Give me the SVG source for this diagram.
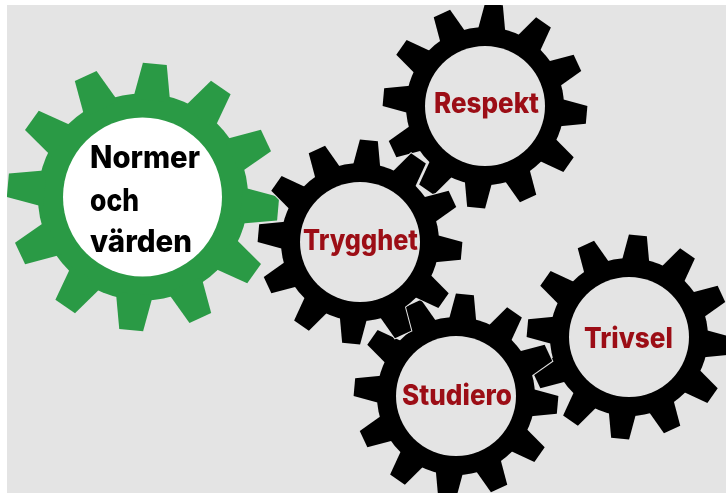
<svg xmlns="http://www.w3.org/2000/svg" width="726" height="493" viewBox="0 0 726 493">
<style>
.t{font-family:"Inter","Liberation Sans",sans-serif;font-weight:800;fill:#9c0f14;font-size:28px}
.k{font-family:"Inter","Liberation Sans",sans-serif;font-weight:800;fill:#000;font-size:31px}
.halo{fill:#e4e4e4;stroke:#e4e4e4;stroke-width:2}
.black{fill:#000}
.green{fill:#2a9a45}
</style>
<defs>
<clipPath id="page"><rect x="7" y="5" width="719" height="488"/></clipPath>
<filter id="soft" x="0" y="0" width="100%" height="100%"><feGaussianBlur stdDeviation="0.45"/></filter>
<polygon id="tooth" points="-14,-74 -9,-102 9,-102 14,-74"/>
<g id="gear">
<circle r="79"/>
<use href="#tooth" transform="rotate(5)"/><use href="#tooth" transform="rotate(35)"/><use href="#tooth" transform="rotate(65)"/><use href="#tooth" transform="rotate(95)"/><use href="#tooth" transform="rotate(125)"/><use href="#tooth" transform="rotate(155)"/><use href="#tooth" transform="rotate(185)"/><use href="#tooth" transform="rotate(215)"/><use href="#tooth" transform="rotate(245)"/><use href="#tooth" transform="rotate(275)"/><use href="#tooth" transform="rotate(305)"/><use href="#tooth" transform="rotate(335)"/>
</g>
</defs>
<rect width="726" height="493" fill="#fff"/>
<rect x="7" y="5" width="719" height="488" fill="#e4e4e4"/>
<g clip-path="url(#page)"><g filter="url(#soft)">
<g id="respekt">
<use href="#gear" class="halo" transform="translate(485 106)"/><use href="#gear" class="black" transform="translate(485 106)"/>
<circle cx="485" cy="106" r="60" fill="#e4e4e4"/>
<text class="t" x="434" y="113" textLength="105" lengthAdjust="spacingAndGlyphs">Respekt</text>
</g>
<g id="trivsel">
<use href="#gear" class="halo" transform="translate(629 337)"/><use href="#gear" class="black" transform="translate(629 337)"/>
<circle cx="629" cy="337" r="60" fill="#e4e4e4"/>
<text class="t" x="584" y="348" textLength="89" lengthAdjust="spacingAndGlyphs">Trivsel</text>
</g>
<g id="studiero">
<use href="#gear" class="halo" transform="translate(456 396)"/><use href="#gear" class="black" transform="translate(456 396)"/>
<circle cx="456" cy="396" r="60" fill="#e4e4e4"/>
<text class="t" x="402" y="405" textLength="110" lengthAdjust="spacingAndGlyphs">Studiero</text>
</g>
<g id="normer">
<use href="#gear" class="green" transform="translate(143 197) scale(1.33 1.31)"/>
<circle cx="142.5" cy="197" r="79.5" fill="#fff"/>
<text class="k" x="90" y="168" textLength="110" lengthAdjust="spacingAndGlyphs">Normer</text>
<text class="k" x="90" y="211" textLength="49" lengthAdjust="spacingAndGlyphs">och</text>
<text class="k" x="90" y="252" textLength="102" lengthAdjust="spacingAndGlyphs">värden</text>
</g>
<g id="trygghet">
<use href="#gear" class="halo" transform="translate(360 242)"/><use href="#gear" class="black" transform="translate(360 242)"/>
<circle cx="360" cy="242" r="60" fill="#e4e4e4"/>
<text class="t" x="303" y="250" textLength="115" lengthAdjust="spacingAndGlyphs">Trygghet</text>
</g>
</g></g>
</svg>
